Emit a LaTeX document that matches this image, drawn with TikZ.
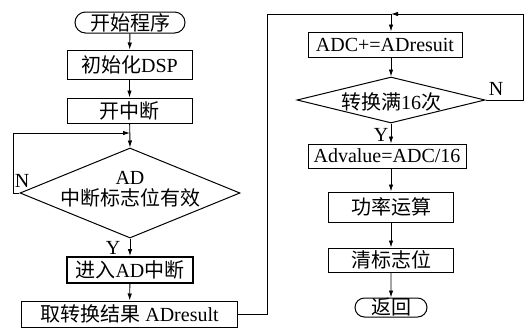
\documentclass[tikz,border=0pt]{standalone}
\usepackage{fontspec}
\setmainfont{Liberation Serif}
\newfontfamily\cjk[Scale=1.0]{Noto Sans CJK SC}
\usetikzlibrary{arrows.meta,shapes.geometric,shapes.misc}
\begin{document}
\begin{tikzpicture}[x=1bp,y=-1bp,
  font=\fontsize{20bp}{23bp}\selectfont,
  arr/.style={line width=0.9bp, -{Latex[length=7bp,width=4.5bp]}},
  box/.style={draw, line width=1bp, rectangle, inner sep=0pt},
  term/.style={draw, line width=1bp, rounded rectangle, inner sep=0pt},
  dec/.style={draw, line width=1bp, diamond, inner sep=0pt},
  lbl/.style={inner sep=0pt}]
\useasboundingbox (0,0) rectangle (526,327);
% left column
\node[term, minimum width=110bp, minimum height=21bp] (start) at (130,22.5) {\cjk 开始程序};
\node[box, minimum width=125bp, minimum height=29bp] (init) at (129.5,64.5) {{\cjk 初始化}DSP};
\node[box, minimum width=125bp, minimum height=25bp] (kai) at (129.5,110.5) {\cjk 开中断};
\coordinate (j1) at (130,133);
\node[dec, minimum width=220bp, minimum height=90bp] (d1) at (130,193) {};
\node[lbl, align=center] (d1t) at (130,189) {AD\\[-2bp]{\cjk 中断标志位有效}};
\node[box, line width=1.8bp, minimum width=126bp, minimum height=26bp] (jin) at (130,270) {{\cjk 进入}AD{\cjk 中断}};
\node[box, minimum width=215bp, minimum height=26bp] (adr) at (129.5,314) {{\cjk 取转换结果} ADresult};
\coordinate (l1) at (13,193);
\coordinate (t1) at (267,14);
\node[lbl] (nl) at (22,181) {N};
\node[lbl] (yl) at (113,248) {Y};
% right column
\coordinate (colR) at (391,14);
\node[box, minimum width=154bp, minimum height=25bp] (adc) at (385,44.5) {ADC+=ADresuit};
\node[dec, minimum width=188bp, minimum height=46bp] (d2) at (391,100) {};
\node[lbl] (d2t) at (391,102) {{\cjk 转换满}16{\cjk 次}};
\node[box, minimum width=158bp, minimum height=24bp] (adv) at (387,156) {Advalue=ADC/16};
\node[box, minimum width=125bp, minimum height=30bp] (gl) at (391,207) {\cjk 功率运算};
\node[box, minimum width=125bp, minimum height=24bp] (qb) at (391,260) {\cjk 清标志位};
\node[term, minimum width=72bp, minimum height=19bp] (ret) at (391,307.5) {\cjk 返回};
\node[lbl] (nr) at (496,89) {N};
\node[lbl] (yr) at (381,135) {Y};
% connectors left
\draw[arr] (start) -- (init);
\draw[arr] (init) -- (kai);
\draw[arr] (kai) -- (d1.north);
\draw[arr] (d1.west) -- (l1) |- (j1);
\draw[arr] (d1.south) -- (jin);
\draw[arr] (jin) -- (adr);
\draw[arr] (adr.east) -| (t1) -| (adc.north -| colR);
% connectors right
\draw[arr] (d2.east) -- ++(38,0) |- (colR);
\draw[arr] (adc.south -| colR) -- (d2.north);
\draw[arr] (d2.south) -- (adv.north -| d2.south);
\draw[arr] (adv.south -| gl.north) -- (gl.north);
\draw[arr] (gl) -- (qb);
\draw[arr] (qb) -- (ret);
\end{tikzpicture}
\end{document}
